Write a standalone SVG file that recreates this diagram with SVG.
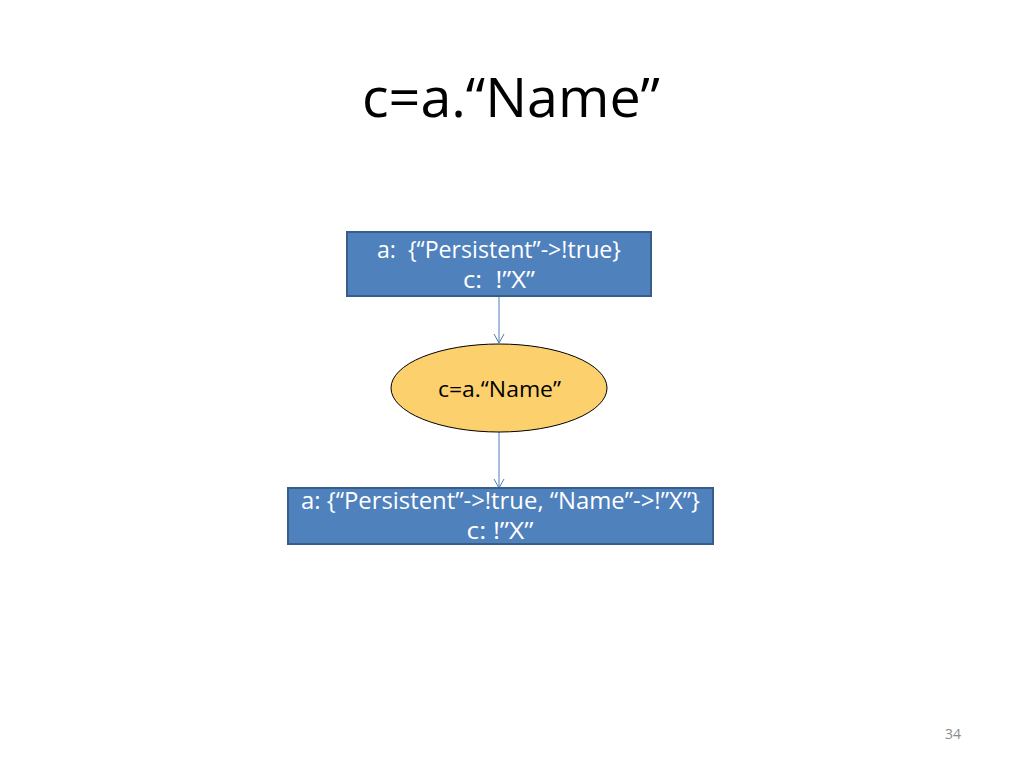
<svg xmlns="http://www.w3.org/2000/svg" width="1024" height="768" viewBox="0 0 1024 768">
<style>
.box{fill:#4f81bd;stroke:#385d8a;stroke-width:2}
.wt{font-family:"Open Sans","Liberation Sans",sans-serif;font-size:23px;fill:#fff;text-anchor:middle}
.bt{font-family:"Open Sans","Liberation Sans",sans-serif;font-size:22px;fill:#000;text-anchor:middle}
.conn{stroke:#4a7ebb;stroke-width:1;fill:none}
</style>
<defs>
<marker id="arr" markerWidth="12" markerHeight="12" refX="10" refY="6" orient="auto" markerUnits="userSpaceOnUse">
<path d="M1,1 L10,6 L1,11" fill="none" stroke="#4a7ebb" stroke-width="1"/>
</marker>
</defs>
<rect width="1024" height="768" fill="#fff"/>
<text x="511" y="117" font-family="Open Sans, Liberation Sans, sans-serif" font-size="54" text-anchor="middle" fill="#000" textLength="298" lengthAdjust="spacingAndGlyphs">c=a.“Name”</text>
<g id="connectors">
<line class="conn" x1="499" y1="297" x2="499" y2="343" marker-end="url(#arr)"/>
<line class="conn" x1="499" y1="432" x2="499" y2="488" marker-end="url(#arr)"/>
</g>
<g id="node-top">
<rect class="box" x="347" y="232" width="304" height="64"/>
<text class="wt" x="499" y="258" textLength="244" lengthAdjust="spacingAndGlyphs" xml:space="preserve">a:  {“Persistent”-&gt;!true}</text>
<text class="wt" x="499" y="288" textLength="72" lengthAdjust="spacingAndGlyphs" xml:space="preserve">c:  !”X”</text>
</g>
<g id="node-op">
<ellipse cx="499" cy="388" rx="108" ry="44" fill="#fcd06c" stroke="#000" stroke-width="1"/>
<text class="bt" x="499.5" y="397" textLength="123" lengthAdjust="spacingAndGlyphs">c=a.“Name”</text>
</g>
<g id="node-bottom">
<rect class="box" x="288" y="488" width="425" height="56"/>
<text class="wt" x="500.5" y="509" textLength="399" lengthAdjust="spacingAndGlyphs">a: {“Persistent”-&gt;!true, “Name”-&gt;!”X”}</text>
<text class="wt" x="500" y="539" textLength="67" lengthAdjust="spacingAndGlyphs">c: !”X”</text>
</g>
<text x="953" y="739" font-family="Open Sans, Liberation Sans, sans-serif" font-size="14" fill="#8c8c8c" text-anchor="middle">34</text>
</svg>
